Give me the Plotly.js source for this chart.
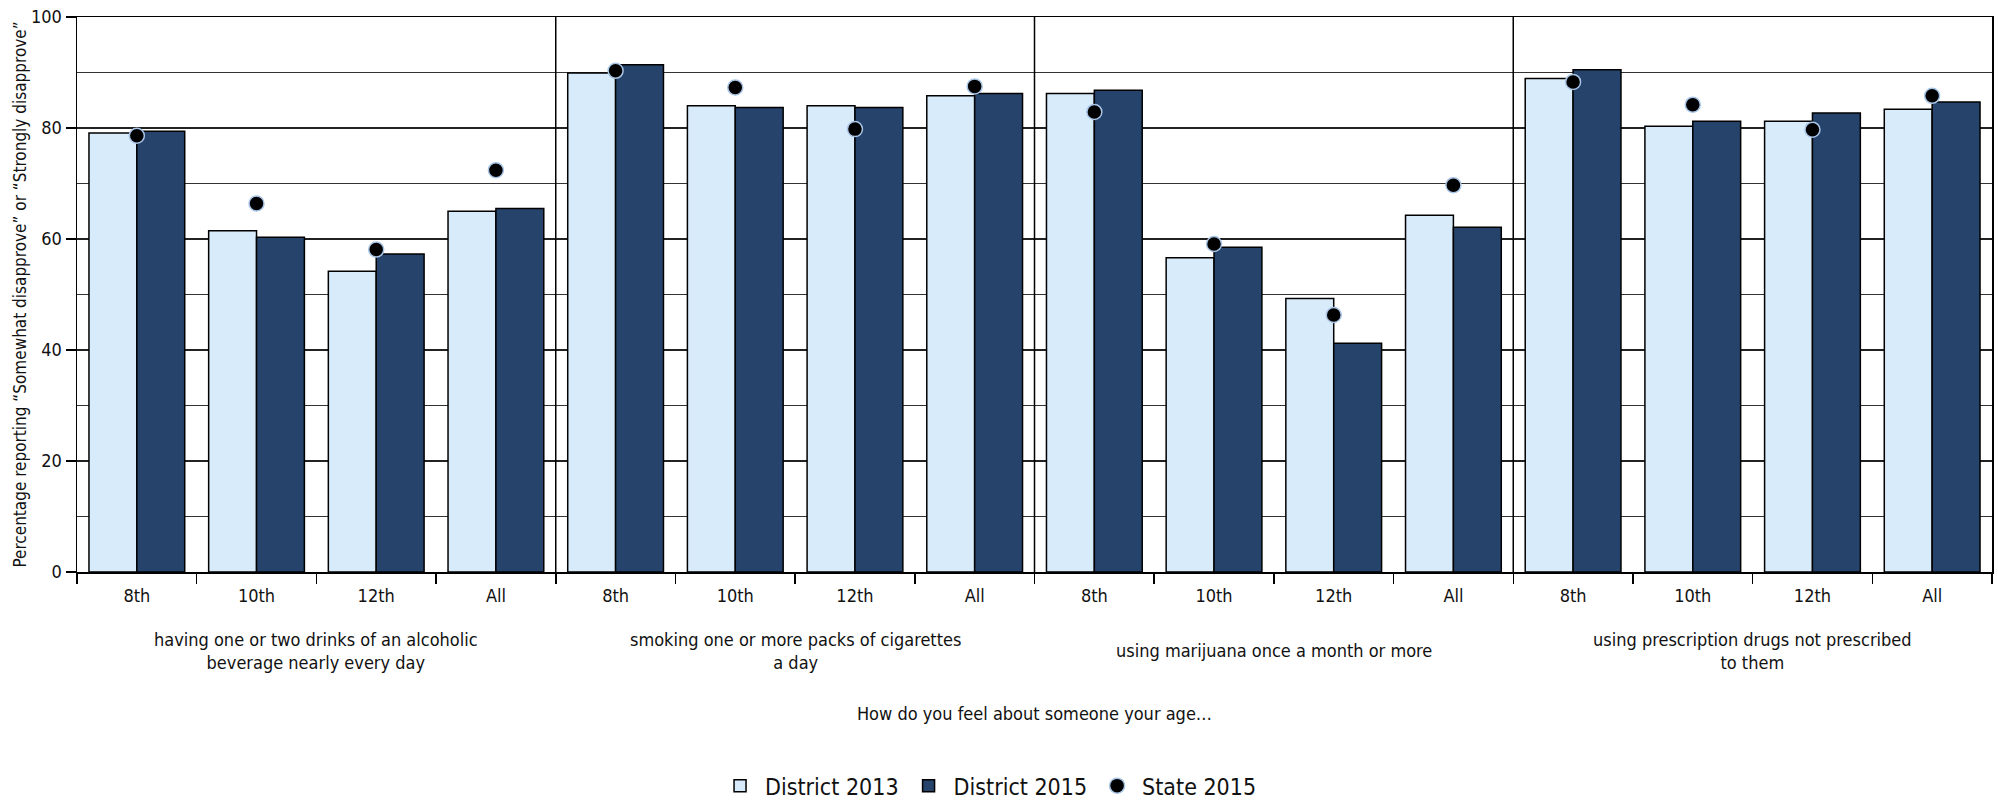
<!DOCTYPE html>
<html>
<head>
<meta charset="utf-8">
<script src="https://cdn.plot.ly/plotly-3.0.1.min.js"></script>
<style>
  html, body { margin: 0; padding: 0; background: #fff; }
  #chart { width: 1998px; height: 801px; }
</style>
</head>
<body>
<div id="chart"></div>
<script>
// ---- data ----
const groups = [
  "having one or two drinks of an alcoholic<br>beverage nearly every day",
  "smoking one or more packs of cigarettes<br>a day",
  "using marijuana once a month or more",
  "using prescription drugs not prescribed<br>to them"
];
const grades = ["8th", "10th", "12th", "All"];

const district2013 = [
  79.1, 61.5, 54.2, 65.0,
  89.9, 84.0, 84.0, 85.8,
  86.2, 56.6, 49.3, 64.3,
  88.9, 80.3, 81.2, 83.4
];
const district2015 = [
  79.4, 60.3, 57.3, 65.5,
  91.4, 83.7, 83.7, 86.2,
  86.8, 58.5, 41.2, 62.1,
  90.5, 81.2, 82.7, 84.7
];
const state2015 = [
  78.6, 66.4, 58.1, 72.4,
  90.3, 87.3, 79.8, 87.5,
  82.9, 59.1, 46.3, 69.7,
  88.3, 84.2, 79.7, 85.8
];

const yTitle = "Percentage reporting \u201cSomewhat disapprove\u201d or \u201cStrongly disapprove\u201d";
const xTitle = "How do you feel about someone your age\u2026";

// ---- layout helpers ----
const nG = grades.length;
const xpos = [];
const tickText = [];
groups.forEach((g, gi) => grades.forEach((gr, j) => { xpos.push(gi * nG + j); tickText.push(gr); }));
const boundaries = [];
for (let i = 0; i <= xpos.length; i++) boundaries.push(i - 0.5);

const FONT = '"DejaVu Sans Condensed", "Liberation Sans Narrow", "Open Sans", sans-serif';
const LIGHT = '#d8ebfb';
const NAVY = '#26436b';

const traces = [
  {
    type: 'bar', name: 'District 2013', x: xpos, y: district2013,
    marker: { color: LIGHT, line: { color: '#000', width: 1.5 } },
    hoverinfo: 'y'
  },
  {
    type: 'bar', name: 'District 2015', x: xpos, y: district2015,
    marker: { color: NAVY, line: { color: '#000', width: 1.5 } },
    hoverinfo: 'y'
  },
  {
    type: 'scatter', mode: 'markers', name: 'State 2015', x: xpos, y: state2015,
    marker: { color: '#000', size: 15, line: { color: '#a9c5e6', width: 1.5 } },
    hoverinfo: 'y'
  }
];

const shapes = [];
for (let gi = 1; gi < groups.length; gi++) {
  shapes.push({
    type: 'line', xref: 'x', yref: 'paper',
    x0: gi * nG - 0.5, x1: gi * nG - 0.5, y0: 0, y1: 1,
    line: { color: '#000', width: 1.5 }, layer: 'above'
  });
}

const annotations = groups.map((g, gi) => ({
  xref: 'x', yref: 'paper',
  x: gi * nG + (nG - 1) / 2, y: -0.142,
  xanchor: 'center', yanchor: 'middle',
  text: g, showarrow: false, align: 'center',
  font: { family: FONT, size: 18, color: '#111' }
}));

const layout = {
  width: 1998, height: 801,
  margin: { l: 76.5, r: 6, t: 16.6, b: 229.2, autoexpand: false },
  paper_bgcolor: '#fff', plot_bgcolor: '#fff',
  font: { family: FONT, color: '#111' },
  barmode: 'group', bargap: 0.2, bargroupgap: 0,
  showlegend: true,
  legend: {
    orientation: 'h', x: 0.476, xanchor: 'center', y: -0.385, yanchor: 'middle',
    font: { family: FONT, size: 23, color: '#111' }, traceorder: 'normal',
    itemwidth: 40
  },
  xaxis: {
    range: [-0.5, xpos.length - 0.5],
    automargin: false,
    tickmode: 'array', tickvals: xpos, ticktext: tickText,
    ticks: 'outside', ticklen: 7, tickcolor: 'rgba(0,0,0,0)',
    tickfont: { family: FONT, size: 18, color: '#111' },
    showgrid: false, zeroline: false,
    showline: true, linecolor: '#000', linewidth: 1.5, mirror: true,
    minor: { tickmode: 'array', tickvals: boundaries, ticks: 'outside', ticklen: 10, tickcolor: '#000', tickwidth: 1.5, showgrid: false },
    title: { text: xTitle, standoff: 102, font: { family: FONT, size: 18, color: '#111' } },
    fixedrange: true
  },
  yaxis: {
    range: [0, 100], tickmode: 'linear', tick0: 0, dtick: 20,
    automargin: false,
    ticks: 'outside', ticklen: 10, tickcolor: '#000', tickwidth: 1.5,
    tickfont: { family: FONT, size: 18, color: '#111' },
    showgrid: true, gridcolor: '#222', gridwidth: 1.3,
    minor: { dtick: 10, showgrid: true, gridcolor: '#333', gridwidth: 1.2, ticks: '' },
    zeroline: false,
    showline: true, linecolor: '#000', linewidth: 1.5, mirror: true,
    title: { text: yTitle, standoff: 0, font: { family: FONT, size: 17, color: '#111' } },
    fixedrange: true
  },
  shapes: shapes,
  annotations: annotations
};

Plotly.newPlot('chart', traces, layout, { displayModeBar: false, staticPlot: true });
</script>
</body>
</html>
